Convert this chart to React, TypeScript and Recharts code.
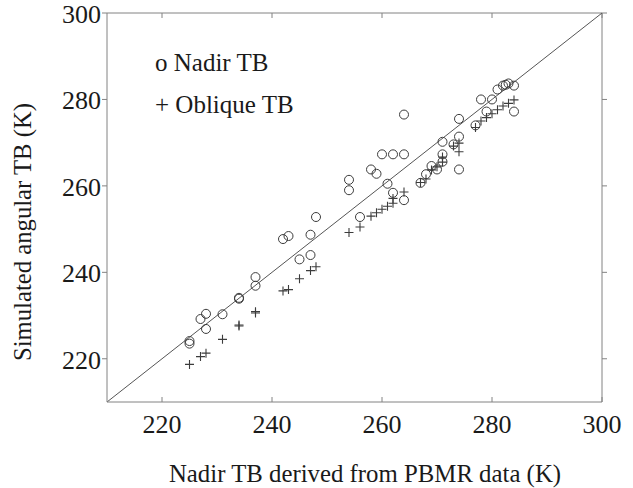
import React from 'react';
import { ScatterChart, Scatter, XAxis, YAxis, ReferenceLine } from 'recharts';

// Nadir TB (circles)
const nadirX = [225, 225, 227, 228, 228, 231, 234, 234, 237, 237, 242, 243, 245, 247, 247, 248, 254, 254, 256, 258, 259, 260, 261, 262, 262, 264, 264, 264, 267, 268, 269, 270, 271, 271, 271, 273, 274, 274, 274, 277, 278, 279, 280, 281, 282, 282.5, 283, 284, 284];
const nadirY = [224.1, 223.5, 229.2, 230.4, 226.9, 230.3, 233.9, 234.1, 236.9, 238.9, 247.7, 248.4, 243.0, 248.7, 244.0, 252.8, 261.4, 259.0, 252.8, 263.8, 262.8, 267.3, 260.5, 267.3, 258.4, 276.5, 267.3, 256.7, 260.7, 262.7, 264.6, 263.8, 265.6, 267.3, 270.2, 269.6, 275.5, 271.4, 263.8, 274.0, 280.0, 277.2, 280.0, 282.3, 283.2, 283.4, 283.7, 283.2, 277.2];

// Oblique TB (plus signs)
const obliqueX = [225, 227, 228, 231, 234, 234, 237, 237, 242, 243, 245, 247, 248, 254, 256, 258, 259, 260, 261, 262, 262, 264, 267, 268, 269, 270, 271, 271, 273, 274, 274, 277, 278, 279, 280, 281, 282, 283, 284];
const obliqueY = [218.7, 220.5, 221.3, 224.5, 227.6, 227.8, 230.6, 230.9, 235.7, 236.0, 238.5, 240.4, 241.3, 249.2, 250.5, 253.0, 253.8, 254.6, 255.3, 256.0, 257.1, 258.6, 260.8, 261.6, 263.7, 264.4, 265.5, 266.7, 269.2, 269.9, 267.9, 273.5, 275.0, 275.8, 276.7, 277.6, 278.5, 279.1, 279.9];

const ticks = [220, 240, 260, 280, 300];
const domain: [number, number] = [210, 300];

const nadir = nadirX.map((x, i) => ({ x, y: nadirY[i] }));
const oblique = obliqueX.map((x, i) => ({ x, y: obliqueY[i] }));

const markColor = '#3c3c3c';
const axisColor = '#828282';
const font = '"Liberation Serif", "Times New Roman", serif';
const TL = 5; // tick length

const Circle = (props: any) => (
  <circle cx={props.cx} cy={props.cy} r={4.5} fill="none" stroke={markColor} strokeWidth={1} />
);

const Plus = (props: any) => {
  const { cx, cy } = props;
  return (
    <path d={`M${cx - 4.5},${cy}H${cx + 4.5}M${cx},${cy - 4.5}V${cy + 4.5}`} stroke={markColor} strokeWidth={1.1} fill="none" />
  );
};

const XTick = (props: any) => (
  <text x={props.x} y={props.y} dy="0.71em" textAnchor="middle" fontFamily={font} fontSize={26} fill="#1a1a1a">
    {props.payload.value}
  </text>
);

const YTick = (props: any) => (
  <text x={props.x} y={props.y} dy="0.38em" textAnchor="end" fontFamily={font} fontSize={26} fill="#1a1a1a">
    {props.payload.value}
  </text>
);

// reference line reduced to its two ends: x ticks point into the box, y ticks point out of it
const TickPair = (props: any) => {
  const { x1, y1, x2, y2 } = props;
  if (x1 === x2) {
    const top = Math.min(y1, y2);
    const bot = Math.max(y1, y2);
    return (
      <path d={`M${x1},${bot}V${bot - TL}M${x1},${top}V${top + TL}`} stroke={axisColor} strokeWidth={1} fill="none" />
    );
  }
  const l = Math.min(x1, x2);
  const r = Math.max(x1, x2);
  return (
    <path d={`M${l},${y1}H${l - TL}M${r},${y1}H${r + TL}`} stroke={axisColor} strokeWidth={1} fill="none" />
  );
};

export default function App() {
  return (
    <div style={{ position: 'absolute', left: 0, top: 0, width: 633, height: 488, background: '#fff' }}>
      <ScatterChart width={633} height={488} margin={{ top: 13, right: 31, bottom: 46, left: 47 }}>
        <XAxis type="number" dataKey="x" domain={domain} ticks={ticks} allowDataOverflow
          height={40} tickLine={false} tickSize={0} tickMargin={13} stroke={axisColor} tick={XTick} />
        <YAxis type="number" dataKey="y" domain={domain} ticks={ticks} allowDataOverflow
          width={60} tickLine={false} tickSize={0} tickMargin={6} stroke={axisColor} tick={YTick} />
        {/* box top and right */}
        <ReferenceLine y={300} stroke={axisColor} strokeWidth={1} />
        <ReferenceLine x={300} stroke={axisColor} strokeWidth={1} />
        {ticks.map((t) => (
          <ReferenceLine key={`x${t}`} x={t} shape={TickPair} />
        ))}
        {ticks.map((t) => (
          <ReferenceLine key={`y${t}`} y={t} shape={TickPair} />
        ))}
        <ReferenceLine segment={[{ x: 210, y: 210 }, { x: 300, y: 300 }]} stroke="#555" strokeWidth={1} />
        <Scatter data={nadir} shape={Circle} isAnimationActive={false} />
        <Scatter data={oblique} shape={Plus} isAnimationActive={false} />
      </ScatterChart>
      <svg width={633} height={488} style={{ position: 'absolute', left: 0, top: 0, pointerEvents: 'none' }}>
        <g fontFamily={font} fill="#1a1a1a">
          <text x={155} y={71} fontSize={25}>o Nadir TB</text>
          <text x={155} y={113} fontSize={25}>+ Oblique TB</text>
          <text x={365} y={482} fontSize={24.8} textAnchor="middle">Nadir TB derived from PBMR data (K)</text>
          <text x={0} y={0} fontSize={24.7} textAnchor="middle" transform="translate(31,232) rotate(-90)">Simulated angular TB (K)</text>
        </g>
      </svg>
    </div>
  );
}
